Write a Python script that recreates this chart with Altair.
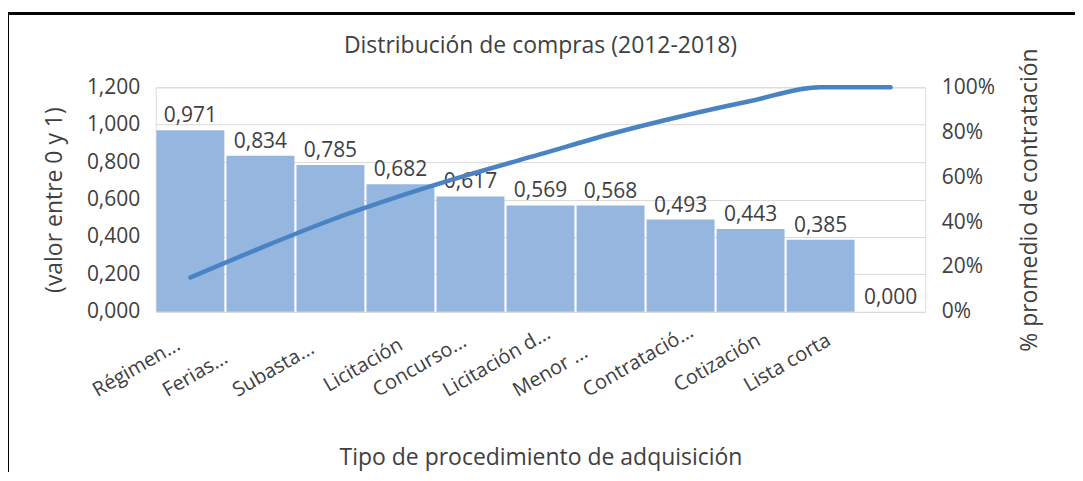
import altair as alt
import pandas as pd

categories = ["Régimen...", "Ferias...", "Subasta...", "Licitación", "Concurso...",
              "Licitación d...", "Menor ...", "Contratació...", "Cotización", "Lista corta", ""]
values = [0.971, 0.834, 0.785, 0.682, 0.617, 0.569, 0.568, 0.493, 0.443, 0.385, 0.000]
cum_pct = [0.153, 0.284, 0.408, 0.516, 0.613, 0.702, 0.792, 0.870, 0.939, 1.000, 1.000]
value_labels = ["0,971", "0,834", "0,785", "0,682", "0,617", "0,569", "0,568", "0,493", "0,443", "0,385", "0,000"]
left_ticks = [0, 0.2, 0.4, 0.6, 0.8, 1.0, 1.2]
right_ticks = [0, 0.2, 0.4, 0.6, 0.8, 1.0]

df = pd.DataFrame({"cat": categories, "val": values, "cum": cum_pct, "lab": value_labels})

FONT = "Open Sans"
TXT = "#404040"
ELLIPSIS_TEST = "indexof(datum.value, '...') >= 0"

x_axis = alt.Axis(title="Tipo de procedimiento de adquisición", labelAngle=330,
                  labelAlign="left", labelBaseline="alphabetic",
                  labelPadding={"condition": {"test": ELLIPSIS_TEST, "value": 85}, "value": 80},
                  labelOffset={"condition": {"test": ELLIPSIS_TEST, "value": -93}, "value": -72},
                  ticks=False, domain=False, grid=False,
                  labelFontSize=20, titleFontSize=23, titleFontWeight="normal",
                  titleY=135, titleBaseline="top", labelColor=TXT, titleColor=TXT,
                  labelOverlap=False, labelLimit=300)
x_scale = alt.Scale(paddingInner=0.03, paddingOuter=0.01)

y_left_axis = alt.Axis(title="(valor entre 0 y 1)", values=left_ticks, tickCount=7,
                       labelExpr="replace(format(datum.value, '.3f'), '.', ',')",
                       ticks=False, domain=False, gridColor="#d9d9d9", labelPadding=16,
                       labelFontSize=21, titleFontSize=23, titleFontWeight="normal",
                       titlePadding=20, labelColor=TXT, titleColor=TXT, labelOverlap=False)
y_left_scale = alt.Scale(domain=[0, 1.2], nice=False)

def xe():
    return alt.X("cat:N", sort=categories, scale=x_scale, axis=x_axis)

bars = alt.Chart(df).mark_bar(color="#95B7DF").encode(
    x=xe(),
    y=alt.Y("val:Q", scale=y_left_scale, axis=y_left_axis)
)

texts = alt.Chart(df).mark_text(baseline="alphabetic", dy=-8, fontSize=21, font=FONT, color=TXT).encode(
    x=xe(),
    y=alt.Y("val:Q", scale=y_left_scale, axis=y_left_axis),
    text="lab:N"
)

line = alt.Chart(df).mark_line(color="#4A83C4", strokeWidth=4.5, interpolate="monotone", strokeCap="round").encode(
    x=xe(),
    y=alt.Y("cum:Q", scale=alt.Scale(domain=[0, 1], nice=False),
            axis=alt.Axis(title="% promedio de contratación", orient="right", format=".0%",
                          values=right_ticks, ticks=False, domain=False, grid=False,
                          labelPadding=16, labelFontSize=21, titleFontSize=23, titleFontWeight="normal",
                          titleAngle=270, titlePadding=47, labelColor=TXT, titleColor=TXT,
                          labelOverlap=False))
)

border = alt.Chart(df).mark_rect(fill=None, stroke="#000000", strokeWidth=1.5).encode(
    x=alt.value(-148), x2=alt.value(940), y=alt.value(-74), y2=alt.value(420)
)

left = alt.layer(bars, texts)
chart = alt.layer(left, line, border).resolve_scale(y="independent").properties(
    width=771, height=225,
    autosize=alt.AutoSizeParams(type="none"),
    padding={"left": 148, "top": 79, "right": 150, "bottom": 160},
    title=alt.TitleParams("Distribución de compras (2012-2018)", fontSize=23, fontWeight="normal",
                          font=FONT, color=TXT, offset=30, dy=75, anchor="middle"),
).configure_view(stroke="#d9d9d9").configure(font=FONT).configure_axis(labelFont=FONT, titleFont=FONT)

chart.save("out.html", embed_options={"renderer": "svg", "actions": False})
